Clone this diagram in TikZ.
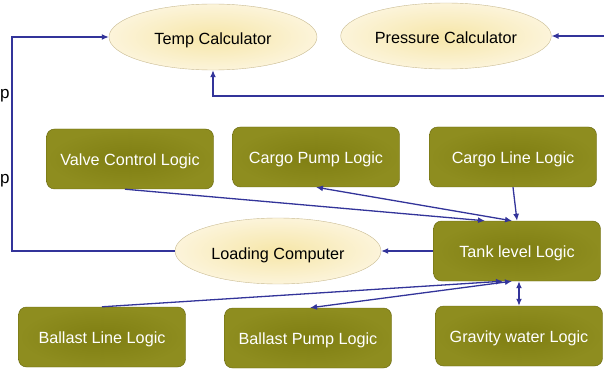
\documentclass[tikz,border=0pt]{standalone}
\usepackage{fontspec}
\setmainfont{Liberation Sans}
\usepackage{tikz}
\usetikzlibrary{arrows.meta, positioning, calc, shapes.geometric}
\definecolor{tlOlive}{HTML}{8E8D1F}
\definecolor{tlOliveIn}{HTML}{7F7E12}
\definecolor{tlOliveEdge}{HTML}{66650C}
\definecolor{tlCreamIn}{HTML}{F6E6A8}
\definecolor{tlCreamOut}{HTML}{FCF4DA}
\definecolor{tlCreamEdge}{HTML}{C9BB92}
\definecolor{tlBlue}{HTML}{33349A}
\newcommand{\tlfont}{\fontsize{16.2}{19}\selectfont}
\tikzset{
  tl-logic/.style={
    rectangle, rounded corners=8pt, draw=tlOliveEdge, thin,
    inner color=tlOliveIn, outer color=tlOlive,
    minimum height=60pt, minimum width=167pt, align=center,
    text height=13pt, text depth=0pt,
    text=white, font=\tlfont
  },
  tl-calc/.style={
    ellipse, draw=tlCreamEdge, thin,
    inner color=tlCreamIn, outer color=tlCreamOut,
    minimum height=66pt, minimum width=208pt, align=center,
    text height=16pt, text depth=0pt,
    text=black, font=\tlfont
  },
  tl-flow/.style={-{Latex[length=7pt,width=6pt]}, line width=1.3pt, draw=tlBlue},
  tl-flow-both/.style={{Latex[length=7pt,width=6pt]}-{Latex[length=7pt,width=6pt]}, line width=1.3pt, draw=tlBlue},
}

\begin{document}
\begin{tikzpicture}[x=1pt, y=-1pt, font=\tlfont]
  \useasboundingbox (0,0) rectangle (604,371);

  % calculators on top
  \node[tl-calc] (temp) at (213,37) {Temp Calculator};
  \node[tl-calc] (press) at (446,36) {Pressure Calculator};

  % logic blocks
  \node[tl-logic] (valve) at (130,159) {Valve Control Logic};
  \node[tl-logic] (cpump) at (316,157) {Cargo Pump Logic};
  \node[tl-logic] (cline) at (513,157) {Cargo Line Logic};
  \node[tl-logic] (tank) at (517,251) {Tank level Logic};
  \node[tl-calc, minimum width=206pt] (lc) at (278,251) {Loading Computer};
  \node[tl-logic] (bline) at (102,337) {Ballast Line Logic};
  \node[tl-logic] (bpump) at (308,338) {Ballast Pump Logic};
  \node[tl-logic] (grav) at (519,336) {Gravity water Logic};

  % stray glyphs at the left edge
  \node[anchor=west, inner sep=0pt, font=\fontsize{17}{20}\selectfont] (edgeA) at (0,96) {p};
  \node[anchor=west, inner sep=0pt, font=\fontsize{17}{20}\selectfont] (edgeB) at (0,181) {p};

  % feed coordinates
  \coordinate (loop) at (12,0);
  \coordinate (pin) at (604,36);
  \coordinate (tin) at (604,96);

  \draw[tl-flow] (pin) -- (press.east);
  \draw[tl-flow] (tin) -| (temp.south);
  \draw[tl-flow] (lc.west) -- (lc.west -| loop) |- (temp.west);
  \draw[tl-flow] (tank.west) -- (lc.east);

  \draw[tl-flow] ($(valve.south)+(-5,0)$) -- ($(tank.north)+(-32,0)$);
  \draw[tl-flow-both] (cpump.south) -- ($(tank.north)+(-5,0)$);
  \draw[tl-flow] (cline.south) -- (tank.north);

  \draw[tl-flow] (bline.north) -- ($(tank.south)+(-14,0)$);
  \draw[tl-flow-both] ($(bpump.north)+(2,0)$) -- ($(tank.south)+(-5,0)$);
  \draw[tl-flow-both] (grav.north) -- (grav.north |- tank.south);

\end{tikzpicture}
\end{document}
